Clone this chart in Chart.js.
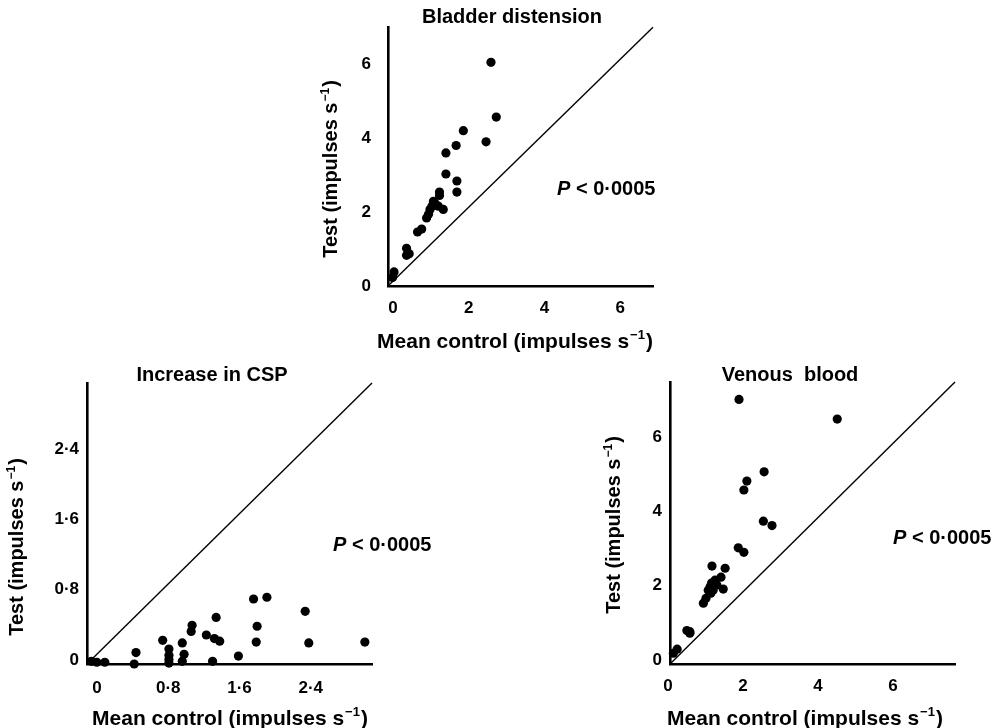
<!DOCTYPE html>
<html><head><meta charset="utf-8">
<script src="https://cdn.jsdelivr.net/npm/chart.js@4/dist/chart.umd.min.js"></script>
<style>
html,body{margin:0;padding:0;background:#fff;width:999px;height:728px;overflow:hidden;}
canvas{position:absolute;}
</style></head><body>
<canvas id="c1" width="380" height="360" style="left:300px;top:0px"></canvas>
<canvas id="c2" width="460" height="368" style="left:0px;top:360px"></canvas>
<canvas id="c3" width="409" height="368" style="left:590px;top:360px"></canvas>
<script>
// ---- data ----
const bladderControl = [2.72, 2.86, 1.99, 1.80, 1.53, 2.59, 1.53, 1.82, 1.82, 1.36, 1.36, 1.20, 1.24, 1.16, 1.11, 1.07, 1.02, 1.33, 1.46, 0.89, 0.78, 0.49, 0.49, 0.56, 0.16, 0.12];
const bladderTest    = [6.05, 4.57, 4.20, 3.80, 3.60, 3.90, 3.03, 2.84, 2.54, 2.54, 2.45, 2.29, 2.24, 2.16, 2.07, 1.94, 1.84, 2.16, 2.07, 1.54, 1.46, 1.02, 0.83, 0.87, 0.38, 0.23];

const cspControl = [1.87, 2.02, 2.45, 1.45, 1.18, 1.17, 1.91, 1.34, 1.43, 1.49, 0.85, 1.07, 1.90, 2.49, 3.12, 0.55, 0.92, 0.92, 0.92, 0.92, 1.09, 1.07, 1.70, 1.41, 0.53, 0.05, 0.11, 0.20];
const cspTest    = [0.74, 0.76, 0.60, 0.53, 0.44, 0.37, 0.43, 0.33, 0.29, 0.26, 0.27, 0.24, 0.25, 0.24, 0.25, 0.13, 0.17, 0.10, 0.05, 0.01, 0.11, 0.03, 0.09, 0.03, 0.00, 0.03, 0.02, 0.02];

const venousControl = [1.84, 4.46, 2.51, 2.05, 1.97, 2.49, 2.72, 1.82, 1.97, 1.12, 1.47, 1.36, 1.42, 1.20, 1.11, 1.07, 1.02, 1.15, 1.09, 1.25, 0.96, 0.89, 0.45, 0.53, 0.53, 0.19, 0.09];
const venousTest    = [7.13, 6.60, 5.18, 4.93, 4.69, 3.85, 3.73, 3.13, 3.01, 2.64, 2.58, 2.34, 2.02, 2.26, 2.18, 2.08, 1.99, 1.99, 1.91, 2.13, 1.77, 1.64, 0.90, 0.87, 0.83, 0.40, 0.29];

const bladderTicks = [0, 2, 4, 6];
const cspTicks     = [0, 0.8, 1.6, 2.4];
const venousTicks  = [0, 2, 4, 6];

const bladderMax = 7;
const cspMax = 3.2;
const venousMax = 7.6;

const panelTitles = ['Bladder distension', 'Increase in CSP', 'Venous  blood'];
const xTitleMain = 'Mean control (impulses s';
const yTitleMain = 'Test (impulses s';
const pText = ' < 0\u00b70005';

// ---- drawing ----
const FONT = "'Liberation Sans', Arial, Helvetica, sans-serif";
const fmt = v => String(v).replace('.', '\u00b7');

function drawUnitLabel(ctx, main, cx, cy, rot, size) {
  const mainFont = `bold ${size}px ${FONT}`;
  const supFont = `bold ${Math.round(size * 0.62)}px ${FONT}`;
  ctx.save();
  ctx.translate(cx, cy);
  ctx.rotate(rot);
  ctx.textAlign = 'left';
  ctx.textBaseline = 'alphabetic';
  ctx.font = mainFont;
  const w1 = ctx.measureText(main).width;
  const w3 = ctx.measureText(')').width;
  ctx.font = supFont;
  const w2 = ctx.measureText('\u22121').width;
  const total = w1 + w2 + w3 + 2;
  let x = -total / 2;
  const base = size * 0.36;
  ctx.font = mainFont; ctx.fillText(main, x, base); x += w1 + 1;
  ctx.font = supFont; ctx.fillText('\u22121', x, base - size * 0.42); x += w2 + 1;
  ctx.font = mainFont; ctx.fillText(')', x, base);
  ctx.restore();
}

const textPlugin = {
  id: 'panelText',
  afterDraw(chart, args, o) {
    const ctx = chart.ctx;
    ctx.save();
    ctx.fillStyle = '#000';
    ctx.textBaseline = 'middle';
    ctx.textAlign = 'center';
    ctx.font = `bold ${o.titleSize}px ${FONT}`;
    ctx.fillText(o.title, o.titlePos[0] - o.ox, o.titlePos[1] - o.oy);
    drawUnitLabel(ctx, xTitleMain, o.xTitlePos[0] - o.ox, o.xTitlePos[1] - o.oy, 0, o.xAxisSize);
    drawUnitLabel(ctx, yTitleMain, o.yTitlePos[0] - o.ox, o.yTitlePos[1] - o.oy, -Math.PI / 2, o.yAxisSize);
    // P value
    ctx.textAlign = 'left';
    let px = o.pPos[0] - o.ox, py = o.pPos[1] - o.oy;
    ctx.font = `italic bold ${o.pSize}px ${FONT}`;
    ctx.fillText('P', px, py);
    px += ctx.measureText('P').width;
    ctx.font = `bold ${o.pSize}px ${FONT}`;
    ctx.fillText(pText, px, py);
    ctx.restore();
  }
};

function panel(id, cfg) {
  const pts = cfg.xs.map((x, i) => ({x: x, y: cfg.ys[i]}));
  const tickFont = {family: FONT, size: 17, weight: 'bold'};
  return new Chart(document.getElementById(id), {
    type: 'scatter',
    data: {
      datasets: [
        {data: [{x: 0, y: 0}, {x: cfg.max, y: cfg.max}], showLine: true, borderColor: '#000', borderWidth: 1.4, pointRadius: 0, fill: false, clip: false},
        {data: pts, pointRadius: 4.6, pointBackgroundColor: '#000', pointBorderWidth: 0, borderColor: '#000', clip: false}
      ]
    },
    options: {
      responsive: false, animation: false, devicePixelRatio: 1,
      layout: {padding: cfg.pad},
      events: [],
      plugins: {
        legend: {display: false}, tooltip: {enabled: false},
        panelText: Object.assign({titleSize: 20, xAxisSize: 21, yAxisSize: 20, pSize: 20}, cfg.text)
      },
      scales: {
        x: {
          type: 'linear', min: 0, max: cfg.max,
          grid: {display: false, drawTicks: false},
          border: {display: true, color: '#000', width: 2.6},
          afterBuildTicks: s => { s.ticks = cfg.ticks.map(v => ({value: v})); },
          afterFit: s => { s.height = cfg.xH; },
          ticks: {padding: cfg.xPad, labelOffset: cfg.xLabelOffset, color: '#000', font: tickFont, callback: fmt, maxRotation: 0, autoSkip: false}
        },
        y: {
          type: 'linear', min: 0, max: cfg.max,
          grid: {display: false, drawTicks: false},
          border: {display: true, color: '#000', width: 2.6},
          afterBuildTicks: s => { s.ticks = cfg.ticks.map(v => ({value: v})); },
          afterFit: s => { s.width = cfg.yW; },
          ticks: {padding: cfg.yPad, labelOffset: cfg.yLabelOffset, color: '#000', font: tickFont, callback: fmt, autoSkip: false}
        }
      }
    },
    plugins: [textPlugin]
  });
}

panel('c1', {
  xs: bladderControl, ys: bladderTest, ticks: bladderTicks, max: bladderMax,
  pad: {left: 0, top: 23, right: 27, bottom: 0}, yW: 88, xH: 74, xPad: 12, yPad: 17, xLabelOffset: 5, yLabelOffset: 0,
  text: {ox: 300, oy: 0, title: panelTitles[0], titlePos: [512, 17], xTitlePos: [515, 340], yTitlePos: [330, 169], pPos: [557, 189]}
});
panel('c2', {
  xs: cspControl, ys: cspTest, ticks: cspTicks, max: cspMax,
  pad: {left: 0, top: 23, right: 88, bottom: 0}, yW: 87, xH: 64, xPad: 14, yPad: 8, xLabelOffset: 10, yLabelOffset: -4,
  text: {ox: 0, oy: 360, title: panelTitles[1], titlePos: [212, 375], xTitlePos: [230, 717], yTitlePos: [16, 547], pPos: [333, 545]}
});
panel('c3', {
  xs: venousControl, ys: venousTest, ticks: venousTicks, max: venousMax,
  pad: {left: 0, top: 22, right: 44, bottom: 0}, yW: 80, xH: 64, xPad: 12, yPad: 8, xLabelOffset: -2, yLabelOffset: -4,
  text: {ox: 590, oy: 360, title: panelTitles[2], titlePos: [790, 375], xTitlePos: [805, 717], yTitlePos: [613, 525], pPos: [893, 538]}
});
</script>
</body></html>
